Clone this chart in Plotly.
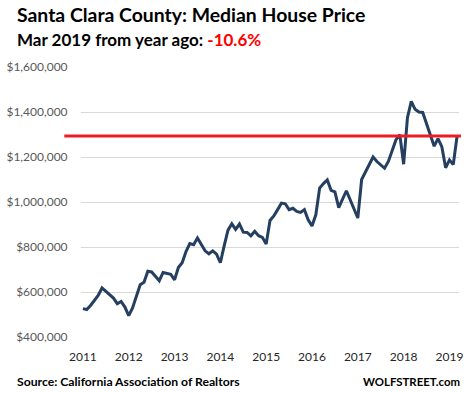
import plotly.graph_objects as go

# ---- data (USD thousands, monthly Jan 2011 - Mar 2019) ----
years = ["2011", "2012", "2013", "2014", "2015", "2016", "2017", "2018", "2019"]
prices_2011 = [526, 522, 540, 563, 585, 618, 603, 592, 573, 548, 558, 533]
prices_2012 = [495, 529, 580, 632, 643, 692, 689, 669, 650, 687, 682, 679]
prices_2013 = [654, 709, 730, 780, 815, 810, 840, 810, 783, 770, 783, 768]
prices_2014 = [730, 805, 875, 903, 878, 902, 866, 865, 850, 870, 850, 843]
prices_2015 = [813, 918, 938, 966, 995, 992, 966, 972, 958, 954, 966, 921]
prices_2016 = [893, 943, 1062, 1082, 1098, 1052, 1045, 975, 1010, 1050, 1010, 966]
prices_2017 = [929, 1100, 1135, 1165, 1200, 1180, 1165, 1150, 1180, 1232, 1277, 1299]
prices_2018 = [1168, 1375, 1447, 1412, 1400, 1398, 1350, 1300, 1248, 1282, 1246, 1152]
prices_2019 = [1187, 1166, 1293.6]

prices_k = (prices_2011 + prices_2012 + prices_2013 + prices_2014 + prices_2015
            + prices_2016 + prices_2017 + prices_2018 + prices_2019)
prices = [p * 1000 for p in prices_k]
month_index = list(range(len(prices)))
year_tick_index = [i * 12 for i in range(len(years))]

y_ticks = [400000, 600000, 800000, 1000000, 1200000, 1400000, 1600000]
y_tick_text = ["$400,000", "$600,000", "$800,000", "$1,000,000", "$1,200,000", "$1,400,000", "$1,600,000"]

title = "Santa Clara County: Median House Price"
subtitle_black = "Mar 2019 from year ago: "
subtitle_red = "-10.6%"
source = "Source: California Association of Realtors"
brand = "WOLFSTREET.com"

# ---- layout geometry ----
W, H = 469, 393
L, R, T, B = 78, 6, 67, 56
pw, ph = W - L - R, H - T - B

def px(x):
    return (x - L) / pw

def py(y):
    return (H - B - y) / ph

FONT = "Lato"
line_color = "#243f60"

fig = go.Figure()
fig.add_trace(go.Scatter(
    x=month_index, y=prices, mode="lines",
    line=dict(color=line_color, width=3), hoverinfo="skip", showlegend=False,
))

# red reference line at latest value
fig.add_shape(type="line", xref="paper", yref="y",
              x0=px(61), x1=px(465), y0=prices[-1], y1=prices[-1],
              line=dict(color="#ee1c25", width=3))

fig.update_layout(
    width=W, height=H,
    margin=dict(l=L, r=R, t=T, b=B, pad=0),
    paper_bgcolor="white", plot_bgcolor="white",
    font=dict(family=FONT, color="#595959"),
    showlegend=False,
    xaxis=dict(
        range=[-0.5, len(prices) - 0.5],
        tickmode="array", tickvals=year_tick_index, ticktext=years,
        ticks="outside", ticklen=9, tickcolor="rgba(0,0,0,0)",
        tickfont=dict(size=12, color="#262626", family=FONT),
        showgrid=False, zeroline=False, showline=False,
    ),
    yaxis=dict(
        range=[400000, 1600000],
        tickmode="array", tickvals=y_ticks, ticktext=y_tick_text,
        ticks="outside", ticklen=10, tickcolor="rgba(0,0,0,0)",
        tickfont=dict(size=12, color="#595959", family=FONT),
        showgrid=True, gridcolor="#d9d9d9", gridwidth=1,
        zeroline=False, showline=False,
    ),
)

ann = []
ann.append(dict(text="<b>" + title + "</b>", x=px(11), y=py(14), xref="paper", yref="paper",
                xanchor="left", yanchor="middle", showarrow=False,
                font=dict(size=19.4, color="#000000", family=FONT)))
ann.append(dict(text="<b>" + subtitle_black + "</b><b><span style='color:#ff0000'>" + subtitle_red + "</span></b>",
                x=px(11), y=py(39.5), xref="paper", yref="paper",
                xanchor="left", yanchor="middle", showarrow=False,
                font=dict(size=17, color="#000000", family=FONT)))
ann.append(dict(text="<b>" + source + "</b>", x=px(11), y=py(381), xref="paper", yref="paper",
                xanchor="left", yanchor="middle", showarrow=False,
                font=dict(size=12.2, color="#000000", family=FONT)))
ann.append(dict(text="<b>" + brand + "</b>", x=px(466), y=py(381), xref="paper", yref="paper",
                xanchor="right", yanchor="middle", showarrow=False,
                font=dict(size=11.4, color="#000000", family=FONT)))
fig.update_layout(annotations=ann)

fig.write_html("out.html", config={"displayModeBar": False},
               post_script="document.body.style.margin='0px';document.body.style.padding='0px';")
